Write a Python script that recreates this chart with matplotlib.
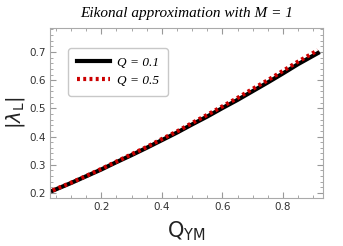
import matplotlib
matplotlib.use("Agg")
import matplotlib.pyplot as plt
from matplotlib.ticker import MultipleLocator

# values
q_ym = [0.04, 0.10, 0.15, 0.20, 0.25, 0.30, 0.35, 0.40, 0.45, 0.50,
        0.55, 0.60, 0.65, 0.70, 0.75, 0.80, 0.85, 0.915]
lam_q01 = [0.208, 0.235, 0.259, 0.283, 0.309, 0.334, 0.360, 0.387, 0.414, 0.443,
           0.471, 0.501, 0.530, 0.561, 0.592, 0.624, 0.657, 0.696]
lam_q05 = [0.209, 0.236, 0.260, 0.285, 0.311, 0.337, 0.363, 0.391, 0.418, 0.448,
           0.477, 0.507, 0.537, 0.569, 0.600, 0.633, 0.666, 0.706]

labels = ["Q = 0.1", "Q = 0.5"]

fig = plt.figure(figsize=(3.43, 2.46), dpi=100)
ax = fig.add_axes([50 / 343, 48 / 246, 273 / 343, 170 / 246])

ax.plot(q_ym, lam_q01, color="black", lw=3, label=labels[0])
ax.plot(q_ym, lam_q05, color="#cc0000", lw=3, ls=(0, (0.7, 0.8)), label=labels[1])

ax.set_xlim(0.031, 0.932)
ax.set_ylim(0.182, 0.785)
ax.xaxis.set_major_locator(MultipleLocator(0.2))
ax.xaxis.set_minor_locator(MultipleLocator(0.05))
ax.yaxis.set_major_locator(MultipleLocator(0.1))
ax.yaxis.set_minor_locator(MultipleLocator(0.02))
ax.tick_params(which="both", direction="in", top=True, right=True,
               color="#999999", labelsize=7.5, labelcolor="#333333", pad=3)
ax.tick_params(which="major", length=4)
ax.tick_params(which="minor", length=2)
for s in ax.spines.values():
    s.set_color("#aaaaaa")

ax.set_xlabel(r"Q$_{\rm YM}$", fontsize=15, color="#222222", labelpad=5)
ax.set_ylabel(r"$|\lambda_{\rm L}|$", fontsize=14, color="#222222", labelpad=2)
ax.set_title("Eikonal approximation with M = 1", fontsize=11, style="italic",
             family="Liberation Serif", pad=8)

leg = ax.legend(loc="upper left", bbox_to_anchor=(0.066, 0.882), borderaxespad=0,
                prop={"family": "Liberation Serif", "style": "italic", "size": 9.5},
                handlelength=2.5, handletextpad=0.6, labelspacing=0.45,
                frameon=True, fancybox=True, borderpad=0.65)
leg.get_frame().set_edgecolor("#bbbbbb")

fig.savefig("out.png", dpi=100)
